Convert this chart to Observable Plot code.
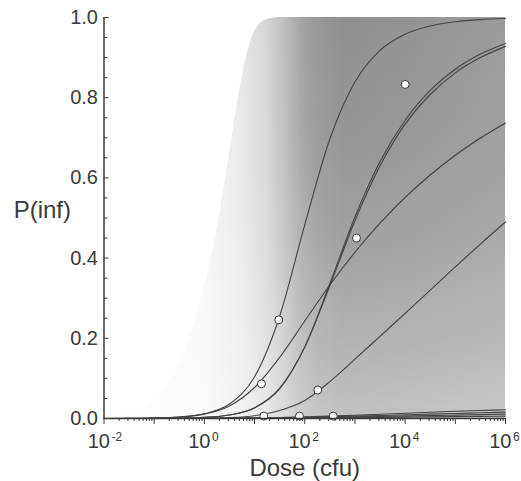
<!DOCTYPE html>
<html><head><meta charset="utf-8">
<script src="https://cdn.jsdelivr.net/npm/d3@7"></script>
<script src="https://cdn.jsdelivr.net/npm/@observablehq/plot@0.6"></script>
<style>
html,body{margin:0;padding:0;background:#fff;}
svg{font-family:"Liberation Sans",Arial,Helvetica,sans-serif;}
</style>
</head><body><div id="chart"></div>
<script>
// dose grid (cfu) at half decades
const dose = [0.01, 0.03162, 0.1, 0.3162, 1, 3.162, 10, 31.62, 100, 316.2, 1000, 3162, 10000, 31623, 100000, 316228, 1000000];
// fitted dose-response curves, P(inf) read at each dose
const curveA  = [0.0001, 0.0004, 0.0012, 0.0038, 0.0118, 0.036, 0.104, 0.255, 0.483, 0.697, 0.839, 0.918, 0.9585, 0.979, 0.9895, 0.9948, 0.9974];
const curveB1 = [0.00003, 0.00009, 0.0003, 0.0009, 0.0028, 0.0086, 0.0262, 0.0741, 0.1785, 0.3366, 0.5026, 0.6406, 0.7438, 0.818, 0.871, 0.9088, 0.9354];
const curveB2 = [0.00003, 0.00009, 0.0003, 0.0009, 0.0028, 0.0086, 0.027, 0.076, 0.178, 0.331, 0.493, 0.630, 0.734, 0.808, 0.862, 0.900, 0.928];
const curveC  = [0.0001, 0.0004, 0.0012, 0.0036, 0.011, 0.0314, 0.0773, 0.1524, 0.243, 0.333, 0.4146, 0.487, 0.5513, 0.6073, 0.6565, 0.6994, 0.7369];
const curveD  = [0.00001, 0.00002, 0.00007, 0.0002, 0.0007, 0.0022, 0.007, 0.02, 0.045, 0.092, 0.148, 0.205, 0.262, 0.32, 0.378, 0.435, 0.49];
const curveE1 = [0, 0, 0, 0, 0.0003, 0.0008, 0.0015, 0.0025, 0.004, 0.006, 0.008, 0.0105, 0.013, 0.0155, 0.018, 0.020, 0.022];
const curveE2 = [0, 0, 0, 0, 0.0002, 0.0005, 0.001, 0.002, 0.003, 0.0045, 0.006, 0.0075, 0.009, 0.011, 0.0125, 0.0143, 0.016];
const curveE3 = [0, 0, 0, 0, 0.0001, 0.0003, 0.0007, 0.0013, 0.002, 0.003, 0.004, 0.005, 0.006, 0.0072, 0.0085, 0.0097, 0.011];
const curveE4 = [0, 0, 0, 0, 0.0001, 0.0002, 0.0004, 0.0007, 0.0011, 0.0016, 0.0021, 0.0027, 0.0033, 0.004, 0.0046, 0.0053, 0.006];
// uncertainty envelope (outer edge of the shaded band)
const envDose = [0.01, 0.03162, 0.1, 0.3162, 1, 1.778, 3.162, 5.623, 10, 17.78, 31.62, 100, 1000, 10000, 100000, 1000000];
const envP    = [0.003, 0.015, 0.05, 0.14, 0.33, 0.47, 0.66, 0.85, 0.965, 0.995, 1, 1, 1, 1, 1, 1];
// observed data points
const obsDose = [10000, 1074, 30.4, 13.7, 182, 15.3, 78.5, 369];
const obsP    = [0.833, 0.450, 0.246, 0.0865, 0.071, 0.006, 0.006, 0.006];
// ticks
const yTicks = [0, 0.2, 0.4, 0.6, 0.8, 1.0];
const yMinor = [0.05, 0.1, 0.15, 0.25, 0.3, 0.35, 0.45, 0.5, 0.55, 0.65, 0.7, 0.75, 0.85, 0.9, 0.95];
const xDecades = [1e-2, 1e-1, 1e0, 1e1, 1e2, 1e3, 1e4, 1e5, 1e6];
const xLabelTicks = [1e-2, 1e0, 1e2, 1e4, 1e6];
const xLabelExp = ["-2", "0", "2", "4", "6"];

const curves = {A: curveA, B1: curveB1, B2: curveB2, C: curveC, D: curveD, E1: curveE1, E2: curveE2, E3: curveE3, E4: curveE4};
const lineData = Object.entries(curves).flatMap(([id, vals]) => vals.map((p, i) => ({id, dose: dose[i], p})));
const envData = envDose.map((d, i) => ({dose: d, p: envP[i]}));
const obsData = obsDose.map((d, i) => ({dose: d, p: obsP[i]}));
const xMinor = xDecades.slice(0, -1).flatMap(d => [2,3,4,5,6,7,8,9].map(m => d * m));
const xLab = xLabelTicks.map((d, i) => ({dose: d, e: xLabelExp[i]}));

const ink = "#3a3a3a";
const defs = () => {
  const g = d3.create("svg:defs");
  const h = g.append("linearGradient").attr("id", "hg").attr("x1", 0).attr("x2", 1).attr("y1", 0).attr("y2", 0);
  [[0, "#ffffff"], [0.25, "#f7f7f7"], [0.344, "#e8e8e8"], [0.406, "#d6d6d6"], [0.45, "#bebebe"], [0.49, "#a6a6a6"], [0.53, "#989898"], [0.6, "#909090"], [0.75, "#939393"], [1, "#9b9b9b"]]
    .forEach(([o, c]) => h.append("stop").attr("offset", o).attr("stop-color", c));
  const v = g.append("linearGradient").attr("id", "vg").attr("x1", 0).attr("x2", 0).attr("y1", 0).attr("y2", 1);
  [[0, 0], [0.3, 0.05], [0.55, 0.15], [0.8, 0.3], [1, 0.45]]
    .forEach(([o, a]) => v.append("stop").attr("offset", o).attr("stop-color", "#ffffff").attr("stop-opacity", a));
  return g.node();
};

const chart = Plot.plot({
  width: 521,
  height: 481,
  marginLeft: 103.5,
  marginRight: 16,
  marginTop: 17,
  marginBottom: 63,
  style: {background: "#fff", color: ink, fontFamily: "Liberation Sans, Arial, sans-serif"},
  x: {type: "log", domain: [0.01, 1e6]},
  y: {domain: [0, 1]},
  marks: [
    defs,
    Plot.areaY(envData, {x: "dose", y: "p", fill: "url(#hg)", curve: "monotone-x"}),
    Plot.areaY(envData, {x: "dose", y: "p", fill: "url(#vg)", curve: "monotone-x"}),
    Plot.line(lineData, {x: "dose", y: "p", z: "id", stroke: "#444", strokeWidth: 1.1, curve: "monotone-x"}),
    Plot.dot(obsData, {x: "dose", y: "p", r: 4, fill: "#fff", stroke: "#3a3a3a", strokeWidth: 1}),
    // axes
    Plot.ruleX([0.01], {stroke: ink, strokeWidth: 1.5}),
    Plot.ruleY([0], {stroke: ink, strokeWidth: 1.5}),
    Plot.axisY({ticks: yTicks, tickSize: -5, fill: "none", label: null, stroke: ink}),
    Plot.axisY({ticks: yMinor, tickSize: -4, fill: "none", label: null, stroke: ink}),
    Plot.axisY({ticks: yTicks, tickSize: 0, tickPadding: 6, tickFormat: d3.format(".1f"), fontSize: 20, label: null, fill: ink}),
    Plot.axisX({ticks: xDecades, tickSize: 6, fill: "none", label: null, stroke: ink}),
    Plot.axisX({ticks: xMinor, tickSize: 3, fill: "none", label: null, stroke: ink}),
    Plot.text(xLab, {x: "dose", y: 0, text: () => "10", lineAnchor: "bottom", dy: 29.5, dx: 6, textAnchor: "end", fontSize: 20, fill: ink}),
    Plot.text(xLab, {x: "dose", y: 0, text: "e", lineAnchor: "bottom", dy: 22, dx: 7.5, textAnchor: "start", fontSize: 12, fill: ink}),
    Plot.text(["P(inf)"], {frameAnchor: "left", lineAnchor: "bottom", dx: -33, dy: -0.5, textAnchor: "end", fontSize: 24, fill: ink}),
    Plot.text(["Dose (cfu)"], {frameAnchor: "bottom", lineAnchor: "bottom", dy: 57, fontSize: 24, fill: ink})
  ]
});
document.getElementById("chart").appendChild(chart);
</script>
</body></html>
